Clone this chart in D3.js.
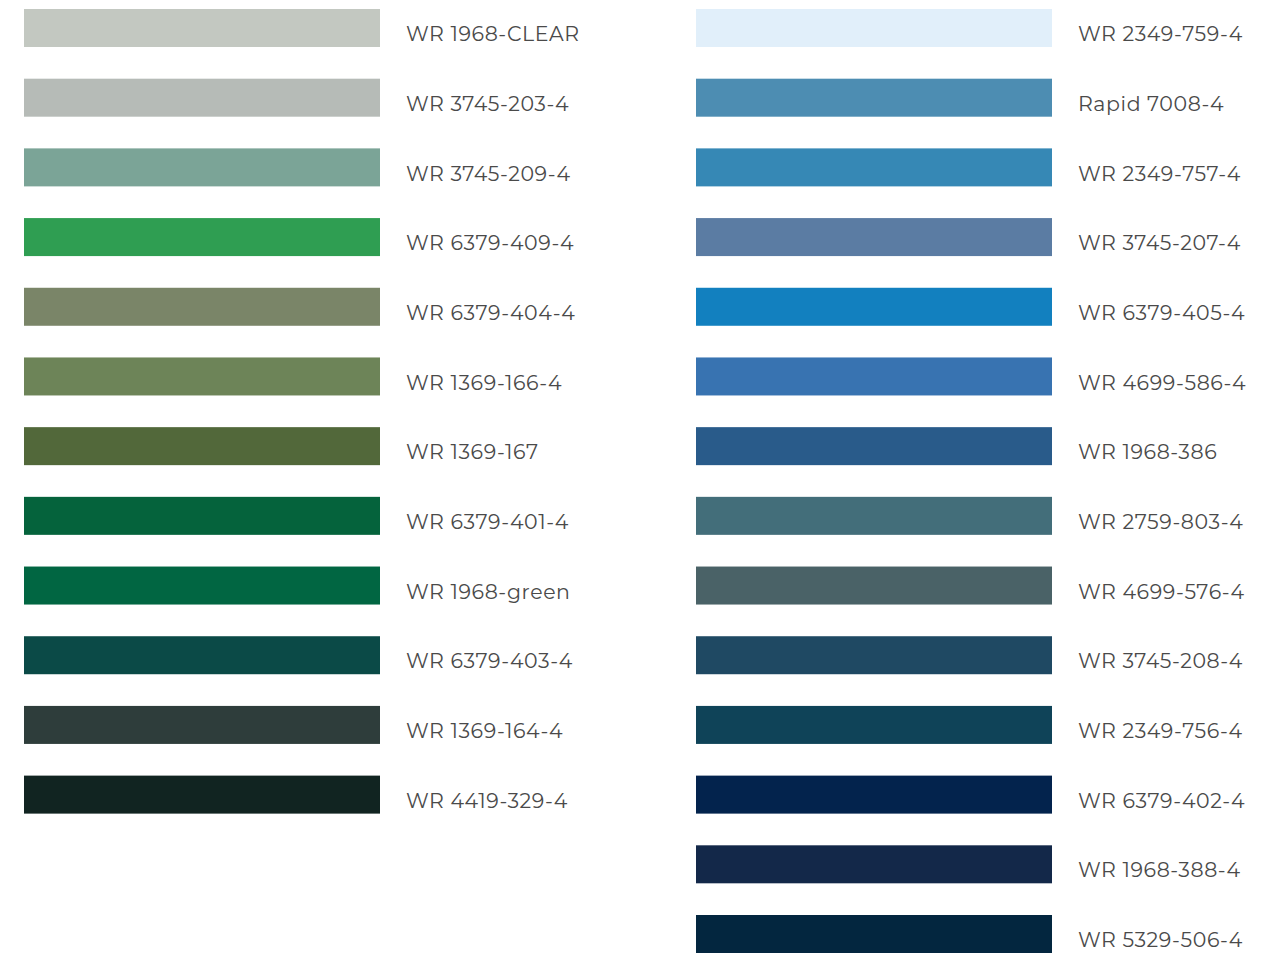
<!DOCTYPE html>
<html lang="en">
  <head>
    <meta charset="utf-8">
    <title>Colour swatches</title>
    <script src="https://d3js.org/d3.v7.min.js"></script>
    <style>
      body { margin: 0; background: #fff; }
      text.label { font-family: "Montserrat", "Open Sans", sans-serif; font-size: 20.5px; fill: #4a4a4a; letter-spacing: 0.6px; }
    </style>
  </head>
  <body>
    <script>
      // left column
      const leftNames = ["WR 1968-CLEAR", "WR 3745-203-4", "WR 3745-209-4", "WR 6379-409-4",
        "WR 6379-404-4", "WR 1369-166-4", "WR 1369-167", "WR 6379-401-4", "WR 1968-green",
        "WR 6379-403-4", "WR 1369-164-4", "WR 4419-329-4"]
      const leftColors = ["#c3c8c1", "#b6bbb7", "#7ba497", "#2f9e52", "#7a8568", "#6d8458",
        "#52683a", "#05633c", "#016642", "#0b4a47", "#2e3d3b", "#112421"]

      // right column
      const rightNames = ["WR 2349-759-4", "Rapid 7008-4", "WR 2349-757-4", "WR 3745-207-4",
        "WR 6379-405-4", "WR 4699-586-4", "WR 1968-386", "WR 2759-803-4", "WR 4699-576-4",
        "WR 3745-208-4", "WR 2349-756-4", "WR 6379-402-4", "WR 1968-388-4", "WR 5329-506-4"]
      const rightColors = ["#e1effa", "#4d8db2", "#3688b5", "#5b7ca3", "#1280bf", "#3873b1",
        "#295b8a", "#436e7a", "#4a6267", "#1f4963", "#0f4358", "#03234d", "#132849", "#03263f"]

      const W = 1284, H = 955
      const barW = 356, barH = 38

      const svg = d3.select("body").append("svg")
        .attr("width", W)
        .attr("height", H)

      const scaleY = d3.scaleLinear().domain([0, 13]).range([9, 915])
      const scaleX = d3.scaleOrdinal().domain(["left", "right"]).range([24, 696])

      const rows = []
      leftNames.forEach((n, i) => rows.push({ col: "left", i: i, name: n, color: leftColors[i] }))
      rightNames.forEach((n, i) => rows.push({ col: "right", i: i, name: n, color: rightColors[i] }))

      const g = svg.selectAll("g.row")
        .data(rows)
        .enter()
        .append("g")
        .attr("class", "row")
        .attr("transform", d => "translate(" + scaleX(d.col) + "," + scaleY(d.i) + ")")

      g.append("rect")
        .attr("width", barW)
        .attr("height", barH)
        .attr("fill", d => d.color)

      g.append("text")
        .attr("class", "label")
        .attr("x", barW + 26)
        .attr("y", barH / 2 + 6)
        .attr("dy", "0.35em")
        .text(d => d.name)
    </script>
  </body>
</html>
